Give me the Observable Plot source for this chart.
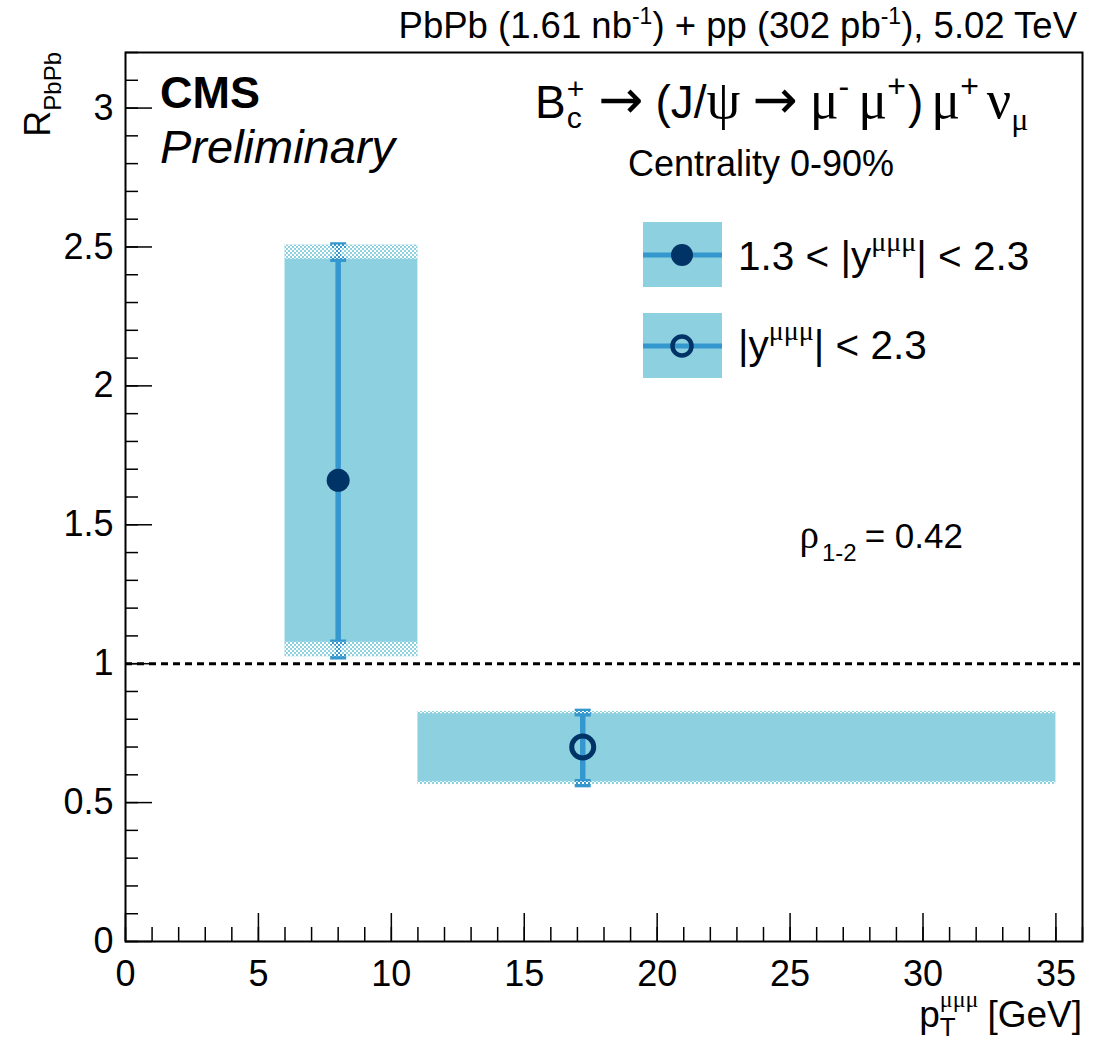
<!DOCTYPE html>
<html><head><meta charset="utf-8">
<script src="https://cdn.jsdelivr.net/npm/d3@7"></script>
<script src="https://cdn.jsdelivr.net/npm/@observablehq/plot@0.6"></script>
<style>body{margin:0;background:#fff}#chart{width:1101px;height:1041px}</style>
</head><body><div id="chart"></div>
<script>
// ---- data ----
const seriesNames = ["1.3 < |y| < 2.3", "|y| < 2.3"];
const ptCenter = [8, 17.2];
const ptLow = [6, 11];
const ptHigh = [11, 35];
const raa = [1.66, 0.70];
const sysLow = [1.077, 0.575];
const sysHigh = [2.456, 0.820];
const totLow = [1.025, 0.565];
const totHigh = [2.507, 0.828];
const filledMarker = [true, false];
const xMajorTicks = [0, 5, 10, 15, 20, 25, 30, 35];
const yMajorTicks = [0, 0.5, 1, 1.5, 2, 2.5, 3];
const refLine = [1];

const points = seriesNames.map((s, i) => ({
  s, x: ptCenter[i], xlo: ptLow[i], xhi: ptHigh[i], y: raa[i],
  slo: sysLow[i], shi: sysHigh[i], tlo: totLow[i], thi: totHigh[i], filled: filledMarker[i]
}));
const caps = points.flatMap(p => [
  {x: p.x, y: p.tlo}, {x: p.x, y: p.thi}, {x: p.x, y: p.slo}, {x: p.x, y: p.shi}
]);
const strips = points.flatMap(p => [
  {xlo: p.xlo, xhi: p.xhi, y1: p.shi, y2: p.thi},
  {xlo: p.xlo, xhi: p.xhi, y1: p.tlo, y2: p.slo}
]);
const xMinorTicks = d3.range(0, 37, 1);
const yMinorTicks = d3.range(0, 32.5, 1).map(d => d / 10);

// ---- style ----
const boxFill = "#8dd1e0";
const errColor = "#3498ce";
const markColor = "#003366";
const W = 1101, H = 1041, mL = 125, mR = 19, mT = 52, mB = 100;
const pw = W - mL - mR, ph = H - mT - mB;
const SANS = "'Liberation Sans', Arial, Helvetica, sans-serif";
const SERIF = "'Liberation Serif', 'DejaVu Serif', serif";
const ARROWF = "'DejaVu Sans', sans-serif";

const capSymbol = {draw(ctx) { ctx.rect(-8, -2.8, 16, 5.6); }};

const plot = Plot.plot({
  width: W, height: H,
  marginLeft: mL, marginRight: mR, marginTop: mT, marginBottom: mB,
  style: {fontFamily: SANS, fontSize: "36px", color: "black", background: "white"},
  x: {domain: [0, 36]},
  y: {domain: [0, 3.2]},
  marks: [
    Plot.rect(points, {x1: "xlo", x2: "xhi", y1: "tlo", y2: "thi", fill: boxFill}),
    Plot.ruleX(points, {x: "x", y1: "tlo", y2: "thi", stroke: errColor, strokeWidth: 5.5}),
    Plot.dot(caps, {x: "x", y: "y", symbol: capSymbol, fill: errColor, stroke: "none"}),
    Plot.rect(strips, {x1: "xlo", x2: "xhi", y1: "y1", y2: "y2", fill: "url(#rootdots)"}),
    Plot.ruleY(refLine, {stroke: "black", strokeWidth: 3, strokeDasharray: "7,5"}),
    Plot.dot(points.filter(d => d.filled), {x: "x", y: "y", r: 11.5, fill: markColor, stroke: "none"}),
    Plot.dot(points.filter(d => !d.filled), {x: "x", y: "y", r: 11, fill: "none", stroke: markColor, strokeWidth: 5}),
    Plot.tickX(xMinorTicks, {x: d => d, stroke: "black", strokeWidth: 1.5, insetTop: ph - 14}),
    Plot.tickX(xMajorTicks, {x: d => d, stroke: "black", strokeWidth: 1.5, insetTop: ph - 28}),
    Plot.tickY(yMinorTicks, {y: d => d, stroke: "black", strokeWidth: 1.5, insetRight: pw - 13}),
    Plot.tickY(yMajorTicks, {y: d => d, stroke: "black", strokeWidth: 1.5, insetRight: pw - 27}),
    Plot.axisX(xMajorTicks, {tickSize: 0, tickPadding: 19, label: null, tickFormat: d => String(d)}),
    Plot.axisY(yMajorTicks, {tickSize: 0, tickPadding: 12, label: null, tickFormat: d => String(d)}),
    Plot.frame({stroke: "black", strokeWidth: 2})
  ]
});
document.getElementById("chart").appendChild(plot);
const svg = d3.select(plot);

// pattern for hatched (total) uncertainty strips
const defs = svg.insert("defs", ":first-child");
const pat = defs.append("pattern").attr("id", "rootdots").attr("patternUnits", "userSpaceOnUse")
  .attr("width", 4).attr("height", 4);
pat.append("rect").attr("x", 0).attr("y", 0).attr("width", 2).attr("height", 2).attr("fill", "white");
pat.append("rect").attr("x", 2).attr("y", 2).attr("width", 2).attr("height", 2).attr("fill", "white");

// ---- rich text helper ----
const ann = svg.append("g").attr("class", "annotations").attr("text-anchor", "start");
function mk(g, t, o) {
  return g.append("text").text(t)
    .attr("text-anchor", "start")
    .attr("font-family", o.ff || SANS).attr("font-size", o.fs)
    .attr("font-weight", o.fw || "normal").attr("font-style", o.fi || "normal")
    .attr("fill", "black");
}
function runs(g, x, y, list, anchor) {
  const tmp = [];
  let total = 0;
  list.forEach(r => {
    if (r.stack) {
      const a = mk(g, r.stack[0].t, r.stack[0]), b = mk(g, r.stack[1].t, r.stack[1]);
      const w = Math.max(a.node().getComputedTextLength(), b.node().getComputedTextLength());
      tmp.push({r, els: [a, b], w}); total += w + (r.gap || 0);
    } else {
      const a = mk(g, r.t, r);
      const w = a.node().getComputedTextLength();
      tmp.push({r, els: [a], w}); total += w + (r.gap || 0);
    }
  });
  let cx = anchor === "end" ? x - total : anchor === "middle" ? x - total / 2 : x;
  tmp.forEach(({r, els, w}) => {
    if (r.stack) {
      els.forEach((e, k) => e.attr("x", cx).attr("y", y + (r.stack[k].dy || 0)));
    } else {
      els[0].attr("x", cx).attr("y", y + (r.dy || 0));
    }
    cx += w + (r.gap || 0);
  });
}

// header
runs(ann, 1077, 38, [
  {t: "PbPb (1.61 nb", fs: 36.5},
  {t: "-1", fs: 23, dy: -14},
  {t: ") + pp (302 pb", fs: 36.5},
  {t: "-1", fs: 23, dy: -14},
  {t: "), 5.02 TeV", fs: 36.5}
], "end");

// CMS Preliminary
mk(ann, "CMS", {fs: 45, fw: "bold"}).attr("x", 160).attr("y", 108);
mk(ann, "Preliminary", {fs: 47, fi: "italic"}).attr("x", 160).attr("y", 163);

// decay
runs(ann, 535, 118, [
  {t: "B", fs: 46, gap: 1},
  {stack: [{t: "+", fs: 30, dy: -19}, {t: "c", fs: 30, dy: 10}], gap: 14},
  {t: "\u2192", fs: 54, ff: ARROWF, gap: 12},
  {t: "(J/", fs: 46},
  {t: "\u03c8", fs: 54, ff: SERIF, gap: 12},
  {t: "\u2192", fs: 54, ff: ARROWF, gap: 12},
  {t: "\u03bc", fs: 54, ff: SERIF},
  {t: "-", fs: 32, dy: -21, gap: 9},
  {t: "\u03bc", fs: 54, ff: SERIF},
  {t: "+", fs: 32, dy: -21, gap: 2},
  {t: ")", fs: 46, gap: 8},
  {t: "\u03bc", fs: 54, ff: SERIF},
  {t: "+", fs: 32, dy: -21, gap: 8},
  {t: "\u03bd", fs: 54, ff: SERIF},
  {t: "\u03bc", fs: 32, ff: SERIF, dy: 12}
], "start");

mk(ann, "Centrality 0-90%", {fs: 36}).attr("x", 761).attr("y", 176).attr("text-anchor", "middle");

// legend
const leg = [{y: 222, filled: true}, {y: 313, filled: false}];
leg.forEach(l => {
  ann.append("rect").attr("x", 643).attr("y", l.y).attr("width", 79).attr("height", 65).attr("fill", boxFill);
  ann.append("line").attr("x1", 643).attr("x2", 722).attr("y1", l.y + 33).attr("y2", l.y + 33)
    .attr("stroke", errColor).attr("stroke-width", 5);
  if (l.filled) ann.append("circle").attr("cx", 682).attr("cy", l.y + 33).attr("r", 11).attr("fill", markColor);
  else ann.append("circle").attr("cx", 682).attr("cy", l.y + 33).attr("r", 9.5).attr("fill", "none")
    .attr("stroke", markColor).attr("stroke-width", 4.5);
});
runs(ann, 738, 270, [
  {t: "1.3 < |y", fs: 40.5},
  {t: "\u03bc\u03bc\u03bc", fs: 28, ff: SERIF, dy: -19},
  {t: "| < 2.3", fs: 40.5}
], "start");
runs(ann, 738, 359, [
  {t: "|y", fs: 40.5},
  {t: "\u03bc\u03bc\u03bc", fs: 28, ff: SERIF, dy: -19},
  {t: "| < 2.3", fs: 40.5}
], "start");

// correlation
runs(ann, 963, 548, [
  {t: "\u03c1", fs: 39, ff: SERIF, gap: 3},
  {t: "1-2", fs: 24, dy: 13, gap: 8},
  {t: "= 0.42", fs: 35}
], "end");

// x title
runs(ann, 1082, 1027, [
  {t: "p", fs: 37},
  {stack: [{t: "\u03bc\u03bc\u03bc", fs: 24, ff: SERIF, dy: -20}, {t: "T", fs: 26, dy: 9}], gap: 9},
  {t: "[GeV]", fs: 37}
], "end");

// y title (rotated)
const gy = ann.append("g").attr("transform", "rotate(-90)");
runs(gy, -52, 50, [
  {t: "R", fs: 36},
  {t: "PbPb", fs: 24, dy: 11}
], "end");
</script></body></html>
